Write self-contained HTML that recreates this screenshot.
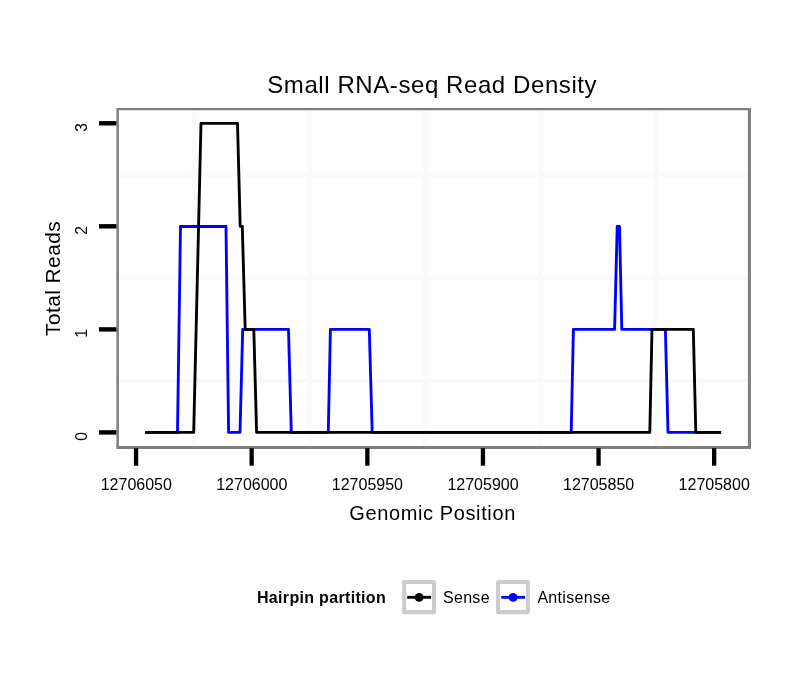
<!DOCTYPE html>
<html>
<head>
<meta charset="utf-8">
<title>Small RNA-seq Read Density</title>
<style>
html,body{margin:0;padding:0;background:#fff;}
body{width:810px;height:690px;overflow:hidden;}
svg{display:block;}
text{font-family:"Liberation Sans",Arial,Helvetica,sans-serif;fill:#000;}
</style>
</head>
<body>
<svg width="810" height="690" viewBox="0 0 810 690">
<rect x="0" y="0" width="810" height="690" fill="#ffffff"/>

<!-- minor gridlines -->
<g stroke="#fafafa" stroke-width="4.3" fill="none">
<line x1="193.9" y1="109" x2="193.9" y2="447"/>
<line x1="309.6" y1="109" x2="309.6" y2="447"/>
<line x1="425.2" y1="109" x2="425.2" y2="447"/>
<line x1="540.8" y1="109" x2="540.8" y2="447"/>
<line x1="656.5" y1="109" x2="656.5" y2="447"/>
<line x1="118" y1="174.9" x2="749" y2="174.9"/>
<line x1="118" y1="277.9" x2="749" y2="277.9"/>
<line x1="118" y1="380.9" x2="749" y2="380.9"/>
</g>

<!-- data lines -->
<g fill="none" stroke-width="2.85" stroke-linejoin="round" stroke-linecap="butt">
<polyline stroke="#0000ff" points="145,432.4 177.5,432.4 180.5,226.5 226,226.5 228.6,432.4 240,432.4 242.7,329.4 288.5,329.4 291.3,432.4 328.3,432.4 330.4,329.4 369.3,329.4 372.2,432.4 571.2,432.4 573.4,329.4 614.6,329.4 617.2,226.3 619.5,226.3 621.8,329.4 665.4,329.4 668,432.4 721.1,432.4"/>
<polyline stroke="#000000" points="145,432.4 193.7,432.4 201,123.3 237.5,123.3 240.2,226.4 242.3,226.4 245.2,329.4 253.8,329.4 256.6,432.4 649.8,432.4 652,329.4 693.3,329.4 695.8,432.4 721.1,432.4"/>
</g>

<!-- panel border -->
<path fill="#7f7f7f" fill-rule="evenodd" d="M116.4,107.9 H751 V448.9 H116.4 Z M118.9,110.2 V445.9 H747.9 V110.2 Z"/>

<!-- ticks -->
<g fill="#000">
<rect x="99" y="121.1" width="17.4" height="4.4"/>
<rect x="99" y="224.1" width="17.4" height="4.4"/>
<rect x="99" y="327.2" width="17.4" height="4.4"/>
<rect x="99" y="430.2" width="17.4" height="4.4"/>
<rect x="133.9" y="448.2" width="4.3" height="17.5"/>
<rect x="249.5" y="448.2" width="4.3" height="17.5"/>
<rect x="365.2" y="448.2" width="4.3" height="17.5"/>
<rect x="480.8" y="448.2" width="4.3" height="17.5"/>
<rect x="596.4" y="448.2" width="4.3" height="17.5"/>
<rect x="712.0" y="448.2" width="4.3" height="17.5"/>
</g>

<!-- y tick labels -->
<g font-size="15.7" text-anchor="end">
<text transform="translate(87.2,123.0) rotate(-90)">3</text>
<text transform="translate(87.2,226.0) rotate(-90)">2</text>
<text transform="translate(87.2,329.1) rotate(-90)">1</text>
<text transform="translate(87.2,432.1) rotate(-90)">0</text>
</g>

<!-- x tick labels -->
<g font-size="16" text-anchor="middle">
<text x="136.3" y="490">12706050</text>
<text x="251.8" y="490">12706000</text>
<text x="367.4" y="490">12705950</text>
<text x="483.0" y="490">12705900</text>
<text x="598.6" y="490">12705850</text>
<text x="714.2" y="490">12705800</text>
</g>

<!-- titles -->
<text x="432.2" y="92.6" font-size="24" letter-spacing="0.58" text-anchor="middle">Small RNA-seq Read Density</text>
<text x="432.6" y="519.9" font-size="20" letter-spacing="0.62" text-anchor="middle">Genomic Position</text>
<text transform="translate(59.8,278.4) rotate(-90)" font-size="20.9" letter-spacing="0.44" text-anchor="middle">Total Reads</text>

<!-- legend -->
<text x="257" y="602.8" font-size="16" letter-spacing="0.32" font-weight="bold">Hairpin partition</text>
<g fill="#ffffff" stroke="#cccccc" stroke-width="4.1" stroke-linejoin="round">
<rect x="404.2" y="582" width="29.8" height="30.1"/>
<rect x="498.1" y="582" width="29.8" height="30.1"/>
</g>
<g stroke-width="2.85" fill="none">
<line x1="407.2" y1="597.3" x2="431.1" y2="597.3" stroke="#000"/>
<line x1="501.2" y1="597.3" x2="525.1" y2="597.3" stroke="#0000ff"/>
</g>
<circle cx="419.1" cy="597.4" r="4.4" fill="#000"/>
<circle cx="513.1" cy="597.4" r="4.4" fill="#0000ff"/>
<text x="443.1" y="602.8" font-size="16" letter-spacing="0.27">Sense</text>
<text x="537.4" y="602.8" font-size="16" letter-spacing="0.31">Antisense</text>
</svg>
</body>
</html>
